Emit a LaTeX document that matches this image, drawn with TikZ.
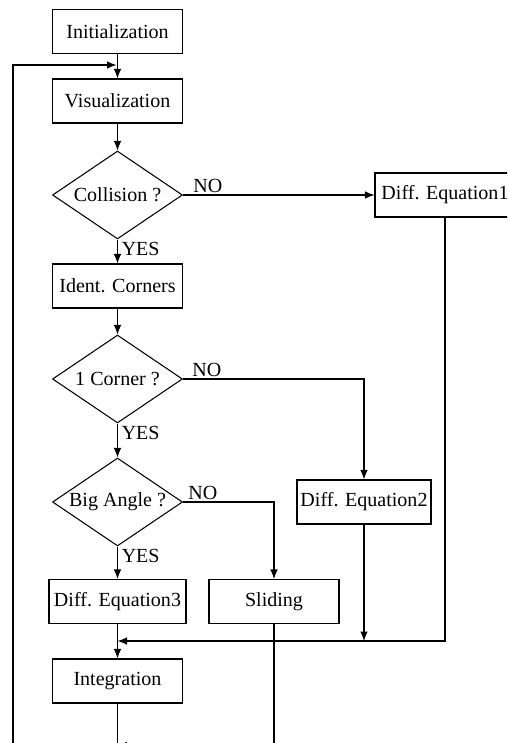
\documentclass[tikz,border=0pt]{standalone}
\usepackage{fontspec}
\setmainfont{Liberation Serif}
\usetikzlibrary{arrows.meta}
\usetikzlibrary{shapes.geometric}

\begin{document}
\begin{tikzpicture}[x=0.02cm, y=-0.02cm, line width=0.6pt,
                    box/.style={draw, minimum width=2.6cm, minimum height=0.88cm, inner sep=1pt,
                                font=\fontsize{11.4}{13}\selectfont},
                    test/.style={draw, diamond, aspect=1.48, minimum width=2.6cm, minimum height=1.76cm,
                                 inner sep=0pt, font=\fontsize{11.4}{13}\selectfont},
                    lab/.style={inner sep=1pt, font=\fontsize{11.4}{13}\selectfont},
                    arr/.style={-{Latex[length=1.9mm, width=1.5mm]}}]
      \useasboundingbox (0,0) rectangle (507,743);
      \clip (0,0) rectangle (507,743);

      \node[box] (init) at (117.5,31.5) {Initialization};
      \node[box] (vis) at (117.5,101) {Visualization};
      \node[test] (coll) at (117.5,195) {Collision ?};
      \node[box, minimum width=2.8cm] (deq1) at (445,195) {Diff. Equation1};
      \node[box] (ident) at (117.5,286) {Ident. Corners};
      \node[test] (corner) at (117.5,379) {1 Corner ?};
      \node[box, minimum width=2.68cm] (deq2) at (364,502) {Diff. Equation2};
      \node[test] (angle) at (117.5,502) {Big Angle ?};
      \node[box, minimum width=2.74cm] (deq3) at (117.5,601.5) {Diff. Equation3};
      \node[box] (slide) at (274,601.5) {Sliding};
      \node[box] (integ) at (117.5,681) {Integration};

      \coordinate (join1) at (117.5,641);
      \coordinate (join2) at (117.5,745.5);
      \coordinate (integend) at (117.5,760);
      \coordinate (loopstart) at (13,760);
      \coordinate (loopend) at (116.5,65);

      % main line
      \draw[arr] (init) -- (vis);
      \draw[arr] (vis) -- (coll);
      \draw[arr] (coll) -- node[lab, pos=0, anchor=north west, xshift=0.4mm] {YES} (ident);
      \draw[arr] (ident) -- (corner);
      \draw[arr] (corner) -- node[lab, pos=0, anchor=north west, xshift=0.4mm] {YES} (angle);
      \draw[arr] (angle) -- node[lab, pos=0, anchor=north west, xshift=0.4mm] {YES} (deq3);
      \draw[arr] (deq3) -- (integ);
      \draw (integ) -- (integend);

      % NO branches
      \draw[arr] (coll) -- node[lab, pos=0, anchor=south west, xshift=1.6mm] {NO} (deq1);
      \draw[arr] (corner) -| node[lab, pos=0, anchor=south west, xshift=1.4mm] {NO} (deq2);
      \draw[arr] (angle) -| node[lab, pos=0, anchor=south west, xshift=0.6mm] {NO} (slide);

      % merging
      \draw[arr] (deq1) |- (join1);
      \draw[arr] (deq2) -- (deq2 |- join1);
      \draw[arr] (slide) |- (join2);
      \draw[arr] (loopstart) |- (loopend);
\end{tikzpicture}
\end{document}
